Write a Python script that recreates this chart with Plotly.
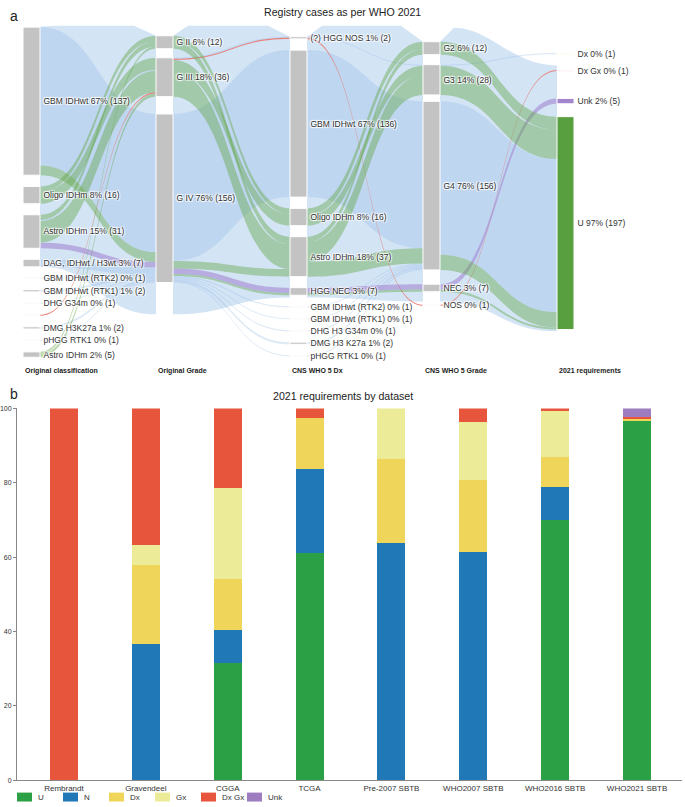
import plotly.graph_objects as go

# ---------------- Sankey data (patient paths through the five stages) ----------------
col_titles = ["Original classification", "Original Grade", "CNS WHO 5 Dx", "CNS WHO 5 Grade", "2021 requirements"]

col1_nodes = ["GBM IDHwt", "Oligo IDHm", "Astro IDHm", "DAG, IDHwt / H3wt", "GBM IDHwt (RTK2)",
              "GBM IDHwt (RTK1)", "DHG G34m", "", "DMG H3K27a", "pHGG RTK1", "Astro IDHm*"]
col2_nodes = ["G II", "G III", "G IV"]
col3_nodes = ["(?) HGG NOS", "GBM IDHwt", "Oligo IDHm", "Astro IDHm", "HGG NEC", "GBM IDHwt (RTK2)",
              "GBM IDHwt (RTK1)", "DHG H3 G34m", "DMG H3 K27a", "pHGG RTK1"]
col4_nodes = ["G2", "G3", "G4", "NEC", "NOS"]
col5_nodes = ["Dx", "Dx Gx", "Unk", "U"]

path_c1 = ["GBM IDHwt", "DAG, IDHwt / H3wt", "GBM IDHwt (RTK1)", "GBM IDHwt (RTK1)", "GBM IDHwt (RTK2)",
           "DHG G34m", "DMG H3K27a", "pHGG RTK1", "Astro IDHm", "", "Astro IDHm", "GBM IDHwt",
           "GBM IDHwt", "Oligo IDHm", "Oligo IDHm", "Oligo IDHm", "Astro IDHm", "Astro IDHm",
           "Astro IDHm", "Astro IDHm", "Astro IDHm*", "Astro IDHm*"]
path_c2 = ["G IV", "G IV", "G IV", "G IV", "G IV", "G IV", "G IV", "G IV", "G III", "G III", "G IV", "G IV",
           "G IV", "G II", "G III", "G III", "G II", "G II", "G III", "G III", "G II", "G III"]
path_c3 = ["GBM IDHwt", "GBM IDHwt", "GBM IDHwt", "GBM IDHwt (RTK1)", "GBM IDHwt (RTK2)", "DHG H3 G34m",
           "DMG H3 K27a", "pHGG RTK1", "(?) HGG NOS", "(?) HGG NOS", "HGG NEC", "HGG NEC", "Astro IDHm",
           "Oligo IDHm", "Oligo IDHm", "Oligo IDHm", "Astro IDHm", "Astro IDHm", "Astro IDHm",
           "Astro IDHm", "Astro IDHm", "Astro IDHm"]
path_c4 = ["G4", "G4", "G4", "G4", "G4", "G4", "G4", "G4", "G3", "NOS", "NEC", "NEC", "G4",
           "G2", "G2", "G3", "G2", "G3", "G3", "G4", "G2", "G3"]
path_c5 = ["U", "U", "U", "U", "U", "U", "U", "U", "Dx", "Dx Gx", "Unk", "U", "U",
           "U", "U", "U", "U", "U", "U", "U", "U", "U"]
path_n = [128, 7, 1, 1, 1, 1, 2, 1, 1, 1, 5, 2, 7, 5, 2, 9, 3, 2, 13, 7, 2, 3]
path_group = ["wt", "wt", "wt", "wt", "wt", "wt", "wt", "wt", "wt", "dxgx", "unk", "mut", "mut",
              "mut", "mut", "mut", "mut", "mut", "mut", "mut", "mut", "mut"]

# ---------------- Bar chart data ----------------
datasets = ["Rembrandt", "Gravendeel", "CGGA", "TCGA", "Pre-2007 SBTB", "WHO2007 SBTB", "WHO2016 SBTB", "WHO2021 SBTB"]
req_U = [0, 0, 31.6, 61.0, 0, 0, 69.9, 96.6]
req_N = [0, 36.6, 8.7, 22.8, 63.7, 61.5, 9.1, 0]
req_Dx = [0, 21.4, 13.7, 13.6, 22.8, 19.3, 8.0, 0.5]
req_Gx = [0, 5.4, 24.5, 0, 13.5, 15.6, 12.2, 0]
req_DxGx = [100, 36.6, 21.5, 2.6, 0, 3.6, 0.8, 0.5]
req_Unk = [0, 0, 0, 0, 0, 0, 0, 2.4]
req_names = ["U", "N", "Dx", "Gx", "Dx Gx", "Unk"]

# ---------------- styling / layout constants ----------------
W, H = 685, 807
FONT = "Liberation Sans, Arial, sans-serif"
blue_bg = "rgba(150,190,232,0.42)"
group_color = {"wt": "rgba(140,180,228,0.28)", "mut": "rgba(95,165,65,0.42)",
               "dxgx": "rgba(236,110,100,0.85)", "unk": "rgba(165,135,210,0.6)"}
end_color = {"Dx": "#f2dc3c", "Dx Gx": "#ef6f68", "Unk": "#a285cc", "U": "#58a03f"}
grey = "#c3c3c3"

sk_left, sk_right = 23, 685          # px extent of sankey domain (last part holds a hidden spacer column)
sk_top, pad = 23, 11
node_w = 17
col_left_px = [23, 156, 290, 423, 557]
col_top = [23, 32, 33, 38, 49.5]
col_gaps = [[11] * 10, [9, 17], [11] * 9, [10, 6, 14, 13], [16, 27.5, 12.5]]
# light-blue flow field behind the links: (top left, top right, bottom left, bottom right) per gap
field = [(23, 32, 265, 313), (32, 33, 313, 296), (33, 38, 296, 300), (38, 62, 300, 330)]

columns = [col1_nodes, col2_nodes, col3_nodes, col4_nodes, col5_nodes]
paths = [path_c1, path_c2, path_c3, path_c4, path_c5]
total = sum(path_n)

node_ids = {}
labels, colors, totals = [], [], []
for ci, col in enumerate(columns):
    for name in col:
        node_ids[(ci, name)] = len(labels)
        v = sum(n for n, nm in zip(path_n, paths[ci]) if nm == name)
        totals.append(v)
        shown = name.rstrip("*")
        labels.append(f"{shown} {round(100 * v / total)}% ({v})" if shown else "")
        colors.append(end_color.get(name, grey) if ci == 4 else grey)

n_max = max(len(c) for c in columns)
sk_h = total * 1.095 + (n_max - 1) * pad
ky = (sk_h - (n_max - 1) * pad) / total
sk_w = sk_right - sk_left

node_x, node_y = [0.0] * len(labels), [0.0] * len(labels)
for ci, col in enumerate(columns):
    y = col_top[ci]
    for k, name in enumerate(col):
        i = node_ids[(ci, name)]
        h = totals[i] * ky
        node_x[i] = (col_left_px[ci] + node_w / 2 - sk_left) / sk_w
        node_y[i] = (y + h / 2 - sk_top) / sk_h
        y += h + (col_gaps[ci][k] if k < len(col_gaps[ci]) else 0)

agg = {}
for p in range(len(path_n)):
    for s in range(4):
        key = (node_ids[(s, paths[s][p])], node_ids[(s + 1, paths[s + 1][p])], path_group[p])
        agg[key] = agg.get(key, 0) + path_n[p]
src = [k[0] for k in agg]
tgt = [k[1] for k in agg]
val = list(agg.values())
lcol = [group_color[k[2]] for k in agg]

# hidden spacer column so that the labels of the last real column sit on the right
spacer = len(labels)
labels.append("")
colors.append("rgba(255,255,255,0)")
node_x.append((sk_right - node_w / 2 - sk_left) / sk_w)
node_y.append(0.5)
src.append(node_ids[(4, "U")])
tgt.append(spacer)
val.append(1e-6)
lcol.append("rgba(255,255,255,0)")

fig = go.Figure()
fig.add_trace(go.Sankey(
    arrangement="fixed",
    domain=dict(x=[sk_left / W, sk_right / W], y=[1 - (sk_top + sk_h) / H, 1 - sk_top / H]),
    node=dict(label=labels, color=colors, pad=pad, thickness=node_w,
              line=dict(color="white", width=1), x=node_x, y=node_y),
    link=dict(source=src, target=tgt, value=val, color=lcol),
    textfont=dict(family=FONT, size=8.5, color="#333"),
))

bar_colors = {"U": "#2ca045", "N": "#2078b6", "Dx": "#efd55a", "Gx": "#ecec98",
              "Dx Gx": "#e8553d", "Unk": "#9e7cc0"}
for name, vals in zip(req_names, [req_U, req_N, req_Dx, req_Gx, req_DxGx, req_Unk]):
    fig.add_trace(go.Bar(x=datasets, y=vals, name=name, showlegend=False,
                         marker=dict(color=bar_colors[name], line=dict(width=0)), xaxis="x", yaxis="y"))

bx0, bx1 = 17, 682
band = 81.87
fig.update_layout(
    width=W, height=H, margin=dict(l=0, r=0, t=0, b=0),
    paper_bgcolor="white", plot_bgcolor="white",
    barmode="stack", bargap=0.658, showlegend=False,
    font=dict(family=FONT, size=8, color="#333"),
    xaxis=dict(domain=[bx0 / W, bx1 / W], anchor="y",
               range=[-0.5 - 6 / band, 7.5 + 4 / band],
               showline=True, linecolor="#888", linewidth=1, ticks="", showgrid=False,
               tickfont=dict(size=8, color="#333"), fixedrange=True),
    yaxis=dict(domain=[1 - 783 / H, 1 - 408 / H], anchor="x", range=[0, 100],
               tickvals=[0, 20, 40, 60, 80, 100], showline=True, linecolor="#888", linewidth=1,
               ticks="outside", ticklen=3, tickcolor="#888", showgrid=False, zeroline=False,
               tickfont=dict(size=7, color="#333")),
)

# light-blue flow field between node columns (drawn beneath the sankey links)
shapes = []
for gi, (ta, tb, ba, bb) in enumerate(field):
    xa = col_left_px[gi] + node_w
    xb = col_left_px[gi + 1]
    xm = (xa + xb) / 2
    ytop = sk_top - 1
    pts = [(xa, ta), (xa + 15, ytop), (xb - 22, ytop), (xb, tb)] if gi < 3 else [(xa, ta), (xa + 14, ytop + 2)]
    d = "M " + " L ".join(f"{x / W:.5f},{1 - y / H:.5f}" for x, y in pts)
    if gi == 3:
        d += f" C {(xa + 50) / W:.5f},{1 - (ytop + 2) / H:.5f} {(xb - 45) / W:.5f},{1 - tb / H:.5f} {xb / W:.5f},{1 - tb / H:.5f}"
    d += f" L {xb / W:.5f},{1 - bb / H:.5f}"
    d += f" C {xm / W:.5f},{1 - bb / H:.5f} {xm / W:.5f},{1 - ba / H:.5f} {xa / W:.5f},{1 - ba / H:.5f} Z"
    shapes.append(dict(type="path", path=d, xref="paper", yref="paper", layer="below",
                       fillcolor=blue_bg, line=dict(width=0)))

# legend drawn as swatches + labels in one row beneath the bars
annotations = []
leg_x0, leg_step, leg_y = 17, 46, 800
for i, name in enumerate(req_names):
    x0 = leg_x0 + i * leg_step
    shapes.append(dict(type="rect", xref="paper", yref="paper", x0=x0 / W, x1=(x0 + 15) / W,
                       y0=1 - (leg_y + 4.5) / H, y1=1 - (leg_y - 4.5) / H,
                       fillcolor=bar_colors[name], line=dict(width=0)))
    annotations.append(dict(text=name, x=(x0 + 19) / W, y=1 - leg_y / H, xref="paper", yref="paper",
                            xanchor="left", yanchor="middle", showarrow=False,
                            font=dict(size=8, color="#333")))

annotations += [
    dict(text="Registry cases as per WHO 2021", x=0.5, y=1 - 8 / H, xref="paper", yref="paper",
         xanchor="center", yanchor="middle", showarrow=False, font=dict(size=10.6, color="#222")),
    dict(text="a", x=8 / W, y=1 - 12 / H, xref="paper", yref="paper", xanchor="left", yanchor="middle",
         showarrow=False, font=dict(size=14, color="#222")),
    dict(text="2021 requirements by dataset", x=0.5, y=1 - 395 / H, xref="paper", yref="paper",
         xanchor="center", yanchor="middle", showarrow=False, font=dict(size=10.6, color="#222")),
    dict(text="b", x=8 / W, y=1 - 393 / H, xref="paper", yref="paper", xanchor="left", yanchor="middle",
         showarrow=False, font=dict(size=14, color="#222")),
]
for ci, t in enumerate(col_titles):
    annotations.append(dict(text=f"<b>{t}</b>", x=col_left_px[ci] / W, y=1 - 370 / H, xref="paper",
                            yref="paper", xanchor="left", yanchor="middle", showarrow=False,
                            font=dict(size=7, color="#222")))
fig.update_layout(annotations=annotations, shapes=shapes)

fig.write_html("out.html")
